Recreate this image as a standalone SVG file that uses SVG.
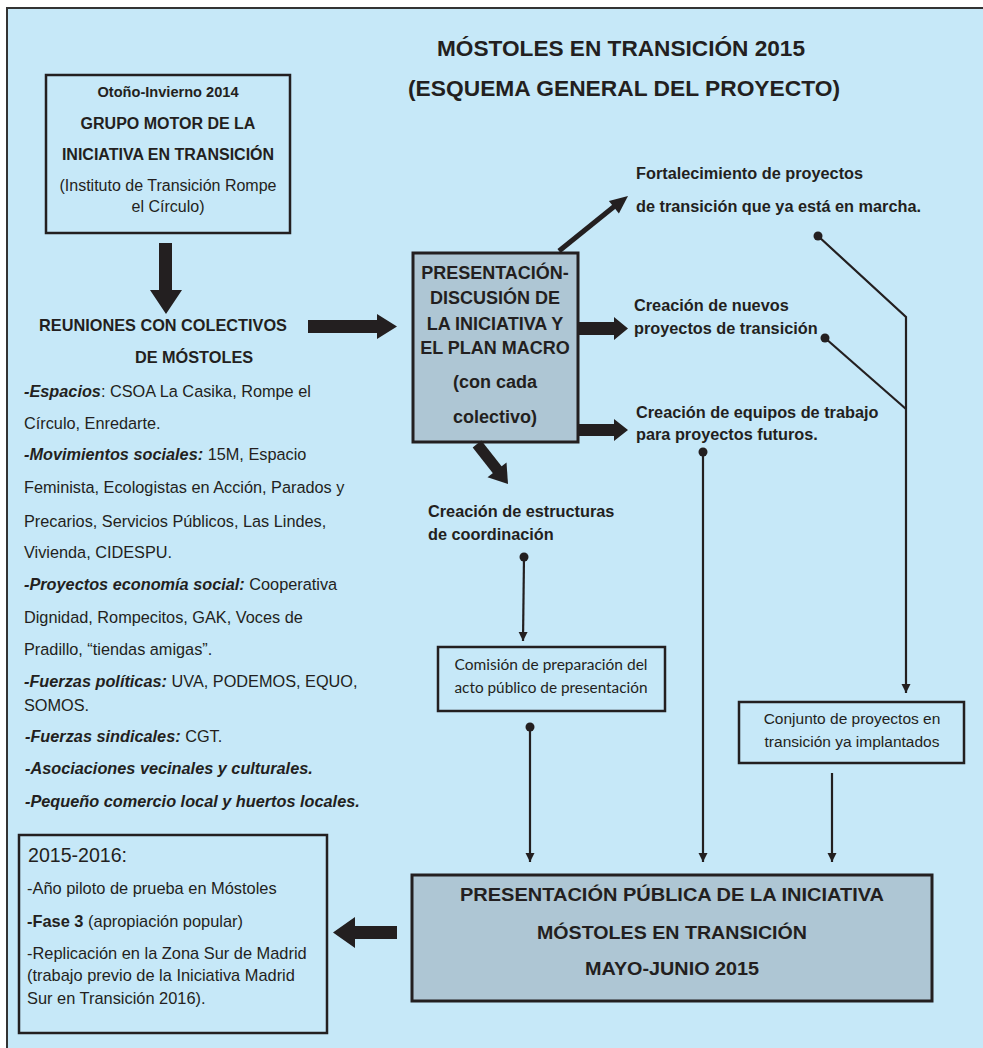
<svg xmlns="http://www.w3.org/2000/svg" width="983" height="1048" viewBox="0 0 983 1048">
<defs>
<marker id="ah" viewBox="0 0 10 10" refX="10" refY="5" markerWidth="9" markerHeight="10" markerUnits="userSpaceOnUse" orient="auto">
<path d="M0,0 L10,5 L0,10 z" fill="#231f20"/>
</marker>
<style>
text{font-family:"Liberation Sans",Arial,sans-serif;fill:#231f20}
.b{font-weight:bold}
.bi{font-weight:bold;font-style:italic}
.c{text-anchor:middle}
.l{font-size:16.3px}
.r{font-size:16.3px;font-weight:bold}
.box{fill:none;stroke:#231f20;stroke-width:2.5}
.gbox{fill:#aec6d4;stroke:#231f20;stroke-width:3}
.thin{fill:none;stroke:#231f20;stroke-width:2.2}
.blk{fill:#231f20}
.dot{fill:#231f20}
.cal{font-family:Lato,"Open Sans",sans-serif;font-size:15.5px}
</style>
</defs>
<rect x="0" y="0" width="983" height="1048" fill="#ffffff"/>
<rect x="7" y="8" width="976" height="1040" fill="#c6e8f8"/>
<path d="M7,1048 L7,8 L983,8" fill="none" stroke="#333" stroke-width="2"/>

<g id="title">
<text class="b c" x="621" y="56" font-size="22" textLength="368" lengthAdjust="spacingAndGlyphs">MÓSTOLES EN TRANSICIÓN 2015</text>
<text class="b c" x="624" y="96" font-size="22" textLength="432" lengthAdjust="spacingAndGlyphs">(ESQUEMA GENERAL DEL PROYECTO)</text>
</g>

<g id="grupo-motor">
<rect class="box" x="46" y="75" width="244" height="158"/>
<text class="b c" x="168" y="97" font-size="14" textLength="141" lengthAdjust="spacingAndGlyphs">Otoño-Invierno 2014</text>
<text class="b c" x="168" y="129" font-size="16">GRUPO MOTOR DE LA</text>
<text class="b c" x="168" y="160" font-size="16">INICIATIVA EN TRANSICIÓN</text>
<text class="c" x="168" y="191" font-size="16">(Instituto de Transición Rompe</text>
<text class="c" x="168" y="212" font-size="16">el Círculo)</text>
</g>

<g id="reuniones">
<text class="b c" x="163" y="331" font-size="16.3">REUNIONES CON COLECTIVOS</text>
<text class="b c" x="194" y="363" font-size="16.3">DE MÓSTOLES</text>
<text class="l" x="24" y="397"><tspan class="bi">-Espacios</tspan>: CSOA La Casika, Rompe el</text>
<text class="l" x="24" y="429">Círculo, Enredarte.</text>
<text class="l" x="24" y="460"><tspan class="bi">-Movimientos sociales:</tspan> 15M, Espacio</text>
<text class="l" x="24" y="493">Feminista, Ecologistas en Acción, Parados y</text>
<text class="l" x="24" y="527">Precarios, Servicios Públicos, Las Lindes,</text>
<text class="l" x="24" y="558">Vivienda, CIDESPU.</text>
<text class="l" x="24" y="590"><tspan class="bi">-Proyectos economía social:</tspan> Cooperativa</text>
<text class="l" x="24" y="623">Dignidad, Rompecitos, GAK, Voces de</text>
<text class="l" x="24" y="655">Pradillo, “tiendas amigas”.</text>
<text class="l" x="24" y="687"><tspan class="bi">-Fuerzas políticas:</tspan> UVA, PODEMOS, EQUO,</text>
<text class="l" x="24" y="711">SOMOS.</text>
<text class="l" x="25" y="742"><tspan class="bi">-Fuerzas sindicales:</tspan> CGT.</text>
<text class="l bi" x="25" y="774">-Asociaciones vecinales y culturales.</text>
<text class="l bi" x="25" y="807">-Pequeño comercio local y huertos locales.</text>
</g>

<g id="presentacion-discusion">
<rect class="gbox" x="413" y="253" width="165" height="189"/>
<text class="b c" x="495" y="279" font-size="18">PRESENTACIÓN-</text>
<text class="b c" x="495" y="304" font-size="18">DISCUSIÓN DE</text>
<text class="b c" x="495" y="330" font-size="18">LA INICIATIVA Y</text>
<text class="b c" x="495" y="354" font-size="18">EL PLAN MACRO</text>
<text class="b c" x="495" y="388" font-size="18">(con cada</text>
<text class="b c" x="495" y="423" font-size="18">colectivo)</text>
</g>

<g id="fortalecimiento">
<text class="r" x="636" y="179">Fortalecimiento de proyectos</text>
<text class="r" x="636" y="212">de transición que ya está en marcha.</text>
</g>

<g id="nuevos-proyectos">
<text class="r" x="634" y="311">Creación de nuevos</text>
<text class="r" x="634" y="334">proyectos de transición</text>
</g>

<g id="equipos-trabajo">
<text class="r" x="636" y="418">Creación de equipos de trabajo</text>
<text class="r" x="636" y="440">para proyectos futuros.</text>
</g>

<g id="estructuras">
<text class="r" x="428" y="517">Creación de estructuras</text>
<text class="r" x="428" y="540">de coordinación</text>
</g>

<g id="comision">
<rect class="box" x="438" y="647" width="227" height="64"/>
<text class="cal c" x="551" y="670" textLength="193" lengthAdjust="spacingAndGlyphs">Comisión de preparación del</text>
<text class="cal c" x="551" y="693" textLength="193" lengthAdjust="spacingAndGlyphs">acto público de presentación</text>
</g>

<g id="conjunto">
<rect class="box" x="739" y="702" width="225" height="61"/>
<text class="c" x="852" y="724" font-size="15.5">Conjunto de proyectos en</text>
<text class="c" x="852" y="747" font-size="15.5">transición ya implantados</text>
</g>

<g id="presentacion-publica">
<rect class="gbox" x="412" y="875" width="520" height="126"/>
<text class="b c" x="672" y="901" font-size="18" textLength="424" lengthAdjust="spacingAndGlyphs">PRESENTACIÓN PÚBLICA DE LA INICIATIVA</text>
<text class="b c" x="672" y="939" font-size="18" textLength="270" lengthAdjust="spacingAndGlyphs">MÓSTOLES EN TRANSICIÓN</text>
<text class="b c" x="672" y="975" font-size="18" textLength="174" lengthAdjust="spacingAndGlyphs">MAYO-JUNIO 2015</text>
</g>

<g id="anio-2015-2016">
<rect class="box" x="19" y="835" width="308" height="198"/>
<text x="28" y="862" font-size="20" textLength="99" lengthAdjust="spacingAndGlyphs">2015-2016:</text>
<text x="27" y="894" font-size="16.4">-Año piloto de prueba en Móstoles</text>
<text x="27" y="927" font-size="16.4"><tspan class="b">-Fase 3</tspan> (apropiación popular)</text>
<text x="27" y="959" font-size="16.4">-Replicación en la Zona Sur de Madrid</text>
<text x="27" y="981" font-size="16.4">(trabajo previo de la Iniciativa Madrid</text>
<text x="27" y="1004" font-size="16.4">Sur en Transición 2016).</text>
</g>

<g id="connectors">
<path class="blk" d="M159,243 L172,243 L172,290 L182,290 L166,314 L150,290 L159,290 Z"/>
<path class="blk" d="M308,320 L377,320 L377,314 L397,326.5 L377,339 L377,333 L308,333 Z"/>
<path class="blk" d="M578,322 L614,322 L614,317 L628,328.5 L614,340 L614,335 L578,335 Z"/>
<path class="blk" d="M578,424 L614,424 L614,419 L628,430 L614,441 L614,436 L578,436 Z"/>
<line x1="559" y1="251" x2="616" y2="205" stroke="#231f20" stroke-width="5"/>
<path class="blk" d="M628,196 L618.9,213.5 L608.9,200.9 Z"/>
<line x1="477" y1="444" x2="499" y2="472" stroke="#231f20" stroke-width="11"/>
<path class="blk" d="M508,484 L506.5,462.4 L487.5,477.2 Z"/>
<path class="blk" d="M397,926 L355,926 L355,917 L333,932.5 L355,948 L355,939 L397,939 Z"/>

<circle class="dot" cx="818" cy="236" r="4.5"/>
<polyline class="thin" points="818,236 906,317 906,693" marker-end="url(#ah)"/>
<circle class="dot" cx="825" cy="338" r="4.5"/>
<line class="thin" x1="825" y1="338" x2="906" y2="409"/>
<circle class="dot" cx="703" cy="452" r="4.5"/>
<line class="thin" x1="703" y1="452" x2="703" y2="862" marker-end="url(#ah)"/>
<circle class="dot" cx="524" cy="557" r="4.5"/>
<line class="thin" x1="524" y1="557" x2="523" y2="641" marker-end="url(#ah)"/>
<circle class="dot" cx="530" cy="727" r="4.5"/>
<line class="thin" x1="530" y1="727" x2="530" y2="862" marker-end="url(#ah)"/>
<line class="thin" x1="832" y1="773" x2="832" y2="862" marker-end="url(#ah)"/>
</g>
</svg>
